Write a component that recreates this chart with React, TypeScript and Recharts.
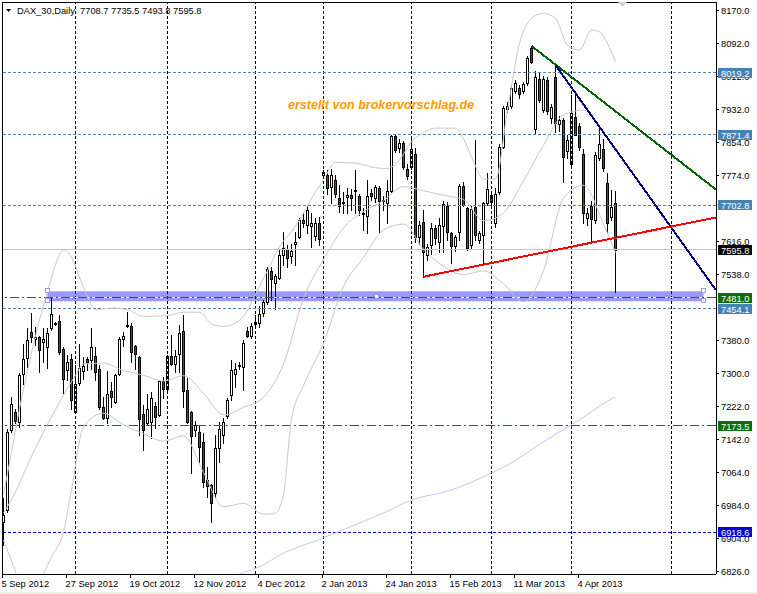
import { ComposedChart, Bar, Line, XAxis, YAxis, ReferenceLine, ReferenceArea, ReferenceDot } from 'recharts'

const FONT = '"Liberation Sans", Arial, sans-serif'

// daily DAX bars, 5 Sep 2012 .. 17 Apr 2013
const opens = [
  6944, 6972, 7164, 7208, 7184, 7299, 7337, 7398, 7381, 7386,
  7374, 7362, 7409, 7419, 7425, 7358, 7307, 7334, 7208, 7277,
  7305, 7333, 7331, 7342, 7311, 7218, 7193, 7257, 7232, 7299,
  7381, 7416, 7414, 7366, 7339, 7201, 7181, 7182, 7221, 7200,
  7281, 7261, 7342, 7321, 7346, 7401, 7260, 7206, 7164, 7159,
  7136, 7044, 7032, 7012, 7120, 7152, 7197, 7248, 7298, 7319,
  7315, 7401, 7389, 7423, 7419, 7445, 7470, 7545, 7515, 7529,
  7583, 7597, 7581, 7609, 7627, 7668, 7655, 7653, 7629, 7660,
  7775, 7775, 7747, 7763, 7719, 7710, 7723, 7727, 7738, 7724,
  7684, 7677, 7731, 7719, 7743, 7714, 7707, 7737, 7868, 7839,
  7852, 7788, 7795, 7825, 7625, 7663, 7583, 7607, 7647, 7615,
  7653, 7701, 7635, 7605, 7639, 7749, 7695, 7607, 7697, 7619,
  7631, 7708, 7726, 7660, 7735, 7843, 7933, 7941, 7976, 7982,
  7976, 7994, 8078, 7886, 8004, 7930, 8002, 7912, 8010, 7898,
  7906, 7833, 7801, 7914, 7892, 7825, 7671, 7701, 7667, 7815,
  7836, 7755, 7675, 7708.7,
]
const highs = [
  7000, 7165, 7244, 7215, 7300, 7371, 7407, 7443, 7411, 7390,
  7407, 7407, 7479, 7423, 7439, 7362, 7343, 7347, 7319, 7369,
  7339, 7339, 7407, 7363, 7320, 7244, 7305, 7279, 7299, 7387,
  7399, 7446, 7419, 7368, 7342, 7224, 7251, 7254, 7230, 7283,
  7291, 7344, 7391, 7355, 7415, 7439, 7288, 7210, 7185, 7175,
  7156, 7076, 7035, 7152, 7184, 7192, 7241, 7331, 7324, 7326,
  7379, 7410, 7420, 7440, 7460, 7475, 7555, 7555, 7538, 7597,
  7639, 7607, 7610, 7639, 7672, 7683, 7700, 7683, 7672, 7675,
  7787, 7787, 7788, 7775, 7751, 7735, 7743, 7740, 7787, 7730,
  7695, 7763, 7740, 7750, 7748, 7725, 7763, 7870, 7870, 7860,
  7856, 7800, 7860, 7839, 7665, 7691, 7610, 7660, 7655, 7672,
  7712, 7711, 7639, 7632, 7753, 7757, 7699, 7700, 7859, 7640,
  7709, 7780, 7730, 7743, 7850, 7940, 7950, 7990, 8002, 7990,
  7998, 8059, 8084, 8025, 8020, 8012, 8010, 7945, 8038, 7915,
  7912, 7870, 7966, 7966, 7900, 7838, 7695, 7712, 7830, 7890,
  7860, 7779, 7739, 7735.5,
]
const lows = [
  6888, 6968, 7160, 7180, 7172, 7275, 7315, 7375, 7367, 7302,
  7327, 7313, 7403, 7415, 7346, 7252, 7283, 7214, 7205, 7271,
  7285, 7307, 7311, 7283, 7215, 7191, 7180, 7220, 7228, 7295,
  7366, 7411, 7327, 7311, 7152, 7116, 7176, 7144, 7168, 7198,
  7240, 7259, 7320, 7302, 7303, 7220, 7180, 7060, 7150, 7087,
  7027, 7004, 6944, 7004, 7088, 7132, 7193, 7236, 7267, 7311,
  7260, 7386, 7385, 7410, 7410, 7438, 7466, 7475, 7454, 7525,
  7559, 7554, 7565, 7559, 7624, 7650, 7636, 7603, 7619, 7607,
  7770, 7730, 7708, 7722, 7687, 7683, 7683, 7690, 7683, 7680,
  7643, 7635, 7715, 7710, 7635, 7690, 7659, 7733, 7830, 7830,
  7790, 7765, 7790, 7615, 7610, 7531, 7570, 7585, 7610, 7590,
  7590, 7620, 7563, 7592, 7620, 7700, 7595, 7600, 7619, 7612,
  7563, 7704, 7700, 7651, 7730, 7840, 7925, 7935, 7970, 7960,
  7970, 7990, 8042, 7872, 7950, 7925, 7920, 7900, 7877, 7880,
  7759, 7815, 7795, 7870, 7835, 7660, 7655, 7615, 7660, 7810,
  7785, 7639, 7667, 7493.8,
]
const closes = [
  6960, 7160, 7225, 7185, 7295, 7335, 7379, 7387, 7387, 7355,
  7381, 7395, 7441, 7418, 7350, 7285, 7327, 7236, 7275, 7313,
  7317, 7326, 7362, 7302, 7218, 7193, 7251, 7242, 7295, 7382,
  7389, 7414, 7350, 7345, 7189, 7164, 7213, 7240, 7196, 7281,
  7261, 7342, 7322, 7341, 7395, 7258, 7184, 7150, 7176, 7123,
  7040, 7029, 6988, 7120, 7165, 7184, 7236, 7307, 7309, 7317,
  7372, 7390, 7413, 7418, 7441, 7470, 7549, 7525, 7533, 7583,
  7599, 7575, 7593, 7615, 7667, 7660, 7691, 7659, 7660, 7621,
  7783, 7744, 7775, 7729, 7700, 7708, 7726, 7720, 7736, 7692,
  7682, 7725, 7724, 7745, 7712, 7712, 7737, 7868, 7835, 7851,
  7795, 7772, 7836, 7625, 7655, 7591, 7603, 7647, 7623, 7655,
  7705, 7639, 7605, 7627, 7749, 7703, 7599, 7693, 7631, 7635,
  7708, 7740, 7709, 7729, 7843, 7935, 7940, 7984, 7994, 7968,
  7992, 8054, 8046, 8010, 7954, 8004, 7929, 7938, 7899, 7906,
  7819, 7859, 7923, 7871, 7841, 7684, 7684, 7669, 7823, 7849,
  7791, 7660, 7699, 7595.8,
]

const upperIdx = [0, 2, 4, 6, 8, 11, 13, 15, 17, 19, 21, 23, 27, 31, 35, 41, 45, 49, 52, 55, 58, 61, 63, 66, 69, 72, 74, 77, 80, 83, 88, 93, 96, 99, 102, 105, 108, 113, 115, 117, 120, 123, 126, 129, 132, 135, 138, 141, 144, 147, 149, 151, 153]
const upperVal = [7010, 7110, 7215, 7305, 7390, 7495, 7560, 7595, 7578, 7530, 7482, 7452, 7456, 7452, 7436, 7438, 7446, 7446, 7418, 7412, 7420, 7450, 7490, 7545, 7603, 7640, 7667, 7718, 7763, 7805, 7803, 7792, 7790, 7811, 7855, 7876, 7887, 7887, 7862, 7819, 7765, 7765, 7930, 8090, 8150, 8162, 8150, 8085, 8074, 8122, 8118, 8090, 8046]
const middleIdx = [0, 3, 6, 9, 12, 15, 18, 20, 25, 30, 35, 40, 45, 50, 55, 60, 65, 70, 75, 80, 85, 90, 95, 100, 105, 110, 115, 120, 125, 130, 135, 140, 145, 150, 153]
const middleVal = [6965, 7015, 7080, 7140, 7195, 7247, 7295, 7322, 7324, 7306, 7295, 7281, 7294, 7252, 7200, 7218, 7242, 7322, 7479, 7572, 7648, 7687, 7713, 7747, 7737, 7726, 7716, 7665, 7684, 7761, 7846, 7919, 7930, 7877, 7829]
const lowerIdx = [0, 2, 4, 6, 8, 10, 12, 15, 17, 20, 25, 30, 35, 40, 45, 50, 55, 60, 65, 68, 70, 72, 75, 80, 85, 90, 95, 100, 105, 110, 115, 120, 125, 130, 135, 140, 145, 150, 153]
const lowerVal = [6900, 6850, 6800, 6770, 6770, 6818, 6860, 6920, 7020, 7172, 7204, 7176, 7155, 7137, 7150, 7062, 6980, 6988, 6962, 6965, 7010, 7190, 7270, 7372, 7508, 7577, 7643, 7657, 7597, 7556, 7536, 7545, 7514, 7471, 7546, 7719, 7750, 7657, 7589]
// long moving average (lavender)
const maIdx = [57, 60, 64, 70, 78, 86, 95, 102, 112, 122, 127, 133, 141, 144, 151, 153]
const maVal = [6812, 6822, 6836, 6869, 6898, 6929, 6965, 6996, 7020, 7061, 7085, 7123, 7171, 7188, 7233, 7243]

const dateTicks = [0, 16, 32, 48, 64, 80, 96, 112, 128, 144]
const dateLabels = ['5 Sep 2012', '27 Sep 2012', '19 Oct 2012', '12 Nov 2012', '4 Dec 2012', '2 Jan 2013', '24 Jan 2013', '15 Feb 2013', '11 Mar 2013', '4 Apr 2013']
const monthStarts = [18, 41, 63, 80, 102, 122, 142, 167]

// 7694 and 7458 sit fully under level boxes, so they are left out
const priceTicks = [8170, 8092, 8012, 7932, 7854, 7774, 7616, 7538, 7380, 7300, 7222, 7142, 7064, 6984, 6904, 6826]

const levelValues = [8019.2, 7871.4, 7702.8, 7454.1, 7595.8, 7481.0, 7173.5, 6918.6]
const levelColors = ['#4682b4', '#4682b4', '#4682b4', '#4682b4', '#000000', '#0a700a', '#0a700a', '#0000d0']
const levelLine = ['#5a80a4', '#5a80a4', '#5a80a4', '#5a80a4', '#c4c4c4', '#008000', '#008000', '#0000d0']
const levelDash = ['3 2', '3 2', '3 2', '3 2', undefined, '9 3 2 3', '9 3 2 3', '3 2']

// trend lines: [bar, price] -> [bar, price]
const greenTrend = [[132, 8084], [178.1, 7740]]
const navyTrend = [[138, 8038], [178.1, 7499]]
const redTrend = [[105, 7531], [178.1, 7673]]

// selected rectangle
const boxBars = [11, 175]
const boxPrices = [7472, 7496]

const bars = opens.map((o, i) => ({
  i,
  open: o,
  high: highs[i],
  low: lows[i],
  close: closes[i],
  upper: null as number | null,
  middle: null as number | null,
  lower: null as number | null,
  ma: null as number | null,
}))
upperIdx.forEach((b, k) => (bars[b].upper = upperVal[k]))
middleIdx.forEach((b, k) => (bars[b].middle = middleVal[k]))
lowerIdx.forEach((b, k) => (bars[b].lower = lowerVal[k]))
maIdx.forEach((b, k) => (bars[b].ma = maVal[k]))

function Candle(props: any) {
  const { x, y, width, height, payload } = props
  if (!payload || height == null) return null
  const { open, close, high, low } = payload
  const top = Math.min(y, y + height)
  const h = Math.abs(height)
  const py = (v: number) => top + ((high - v) / (high - low || 1)) * h
  const n = Math.floor(x + width / 2)
  const wTop = Math.round(top)
  const wBot = Math.round(top + h)
  const bTop = Math.round(py(Math.max(open, close)))
  const bBot = Math.round(py(Math.min(open, close)))
  const up = close >= open
  return (
    <g shapeRendering="crispEdges">
      <rect x={n} y={wTop} width={1} height={Math.max(wBot - wTop + 1, 1)} fill="#000" />
      <rect x={n - 1} y={bTop} width={3} height={bBot - bTop + 1} fill="#000" />
      {bBot - bTop >= 2 && (
        <rect x={n} y={bTop + 1} width={1} height={bBot - bTop - 1} fill={up ? '#ffffff' : '#ff0000'} />
      )}
    </g>
  )
}

function DateTick(props: any) {
  const { x, y, payload } = props
  const k = dateTicks.indexOf(payload.value)
  const px = Math.floor(x) - 0.5
  return (
    <g>
      <line x1={px} x2={px} y1={y} y2={y + 4} stroke="#000" shapeRendering="crispEdges" />
      <text x={px - 1} y={y + 13} fontSize={9.3} fontFamily={FONT} fill="#000">{dateLabels[k]}</text>
    </g>
  )
}

function PriceTick(props: any) {
  const { x, y, payload } = props
  const v = payload.value
  const k = levelValues.indexOf(v)
  const ry = Math.round(y)
  if (k >= 0) {
    return (
      <g>
        <rect x={x + 2} y={ry - 5} width={34} height={10} fill={levelColors[k]} shapeRendering="crispEdges" />
        <text x={x + 5} y={ry + 3.5} fontSize={9.3} fontFamily={FONT} fill="#fff">{v.toFixed(1)}</text>
      </g>
    )
  }
  return (
    <g>
      <line x1={x} x2={x + 3} y1={ry + 0.5} y2={ry + 0.5} stroke="#000" shapeRendering="crispEdges" />
      <text x={x + 5} y={ry + 3.5} fontSize={9.3} fontFamily={FONT} fill="#000">{v.toFixed(1)}</text>
    </g>
  )
}

const handle = (p: any) => (
  <rect x={Math.round(p.cx) - 2.5} y={Math.round(p.cy) - 2.5} width={4} height={4} fill="#fff" stroke="#9a9af6" shapeRendering="crispEdges" />
)
const midHandle = (p: any) => (
  <rect x={Math.round(p.cx) - 1} y={Math.round(p.cy) - 1} width={3} height={3} fill="#fff" shapeRendering="crispEdges" />
)

export default function App() {
  return (
    <div style={{ position: 'fixed', left: 0, top: 0, width: 757, height: 594, background: '#fff', overflow: 'hidden' }}>
      <ComposedChart width={757} height={594} data={bars} margin={{ top: 2, right: 0, bottom: 0, left: 3 }}>
        <XAxis
          dataKey="i"
          type="number"
          domain={[-0.125, 178.125]}
          allowDataOverflow
          ticks={dateTicks}
          interval={0}
          tickSize={0}
          tickMargin={0}
          height={20}
          tick={<DateTick />}
          axisLine={{ stroke: '#000', shapeRendering: 'crispEdges' }}
        />
        <YAxis
          orientation="right"
          type="number"
          domain={[6818.8, 8189.2]}
          allowDataOverflow
          ticks={[...priceTicks, ...levelValues]}
          interval={0}
          width={41}
          tickSize={0}
          tickMargin={0}
          tick={<PriceTick />}
          axisLine={{ stroke: '#000', shapeRendering: 'crispEdges' }}
        />

        <ReferenceArea x1={boxBars[0]} x2={boxBars[1]} y1={boxPrices[0]} y2={boxPrices[1]} fill="#9a9af6" fillOpacity={1} stroke="none" />

        {monthStarts.map((b) => (
          <ReferenceLine key={'m' + b} x={b} stroke="#000" strokeDasharray="3 2" shapeRendering="crispEdges" />
        ))}

        <ReferenceLine y={levelValues[5]} stroke="#fff" shapeRendering="crispEdges" />
        {levelValues.map((v, k) => (
          <ReferenceLine key={'l' + v} y={v} stroke={levelLine[k]} strokeDasharray={levelDash[k]} shapeRendering="crispEdges" />
        ))}

        <Line dataKey="upper" type="monotone" stroke="#c8c8c8" strokeWidth={1} dot={false} connectNulls isAnimationActive={false} />
        <Line dataKey="middle" type="monotone" stroke="#c8c8c8" strokeWidth={1} dot={false} connectNulls isAnimationActive={false} />
        <Line dataKey="lower" type="monotone" stroke="#c8c8c8" strokeWidth={1} dot={false} connectNulls isAnimationActive={false} />
        <Line dataKey="ma" type="monotone" stroke="#c6c6f4" strokeWidth={1} dot={false} connectNulls isAnimationActive={false} />

        <Bar dataKey={(d: any) => [d.low, d.high]} shape={<Candle />} isAnimationActive={false} />

        <ReferenceLine segment={greenTrend.map(([x, y]) => ({ x, y }))} stroke="#006400" strokeWidth={2} shapeRendering="crispEdges" />
        <ReferenceLine segment={navyTrend.map(([x, y]) => ({ x, y }))} stroke="#000080" strokeWidth={2} shapeRendering="crispEdges" />
        <ReferenceLine segment={redTrend.map(([x, y]) => ({ x, y }))} stroke="#ff0000" strokeWidth={2} shapeRendering="crispEdges" />

        {boxBars.map((b) =>
          boxPrices.map((p) => <ReferenceDot key={'h' + b + p} x={b} y={p} shape={handle} />)
        )}
        <ReferenceDot x={(boxBars[0] + boxBars[1]) / 2} y={(boxPrices[0] + boxPrices[1]) / 2} shape={midHandle} />
      </ComposedChart>

      <svg width={757} height={594} style={{ position: 'absolute', left: 0, top: 0, pointerEvents: 'none' }}>
        <line x1={2.5} x2={2.5} y1={2} y2={574} stroke="#000" shapeRendering="crispEdges" />
        <line x1={2} x2={716} y1={2.5} y2={2.5} stroke="#000" shapeRendering="crispEdges" />
        <rect x={0} y={592} width={757} height={2} fill="#f1f0e8" />
        <polygon points="6,9 11,9 8.5,12" fill="#000" />
        <text x={17} y={14} fontSize={9.3} fontFamily={FONT} fill="#000" style={{ whiteSpace: 'pre' }}>
          {'DAX_30,Daily  7708.7 7735.5 7493.8 7595.8'}
        </text>
        <polygon points="618,2 627,2 622.5,7" fill="#d0d0d0" />
        <text x={288} y={109} fontSize={12.5} fontFamily={FONT} fontWeight="bold" fontStyle="italic" fill="#ff9900">
          erstellt von brokervorschlag.de
        </text>
      </svg>
    </div>
  )
}
